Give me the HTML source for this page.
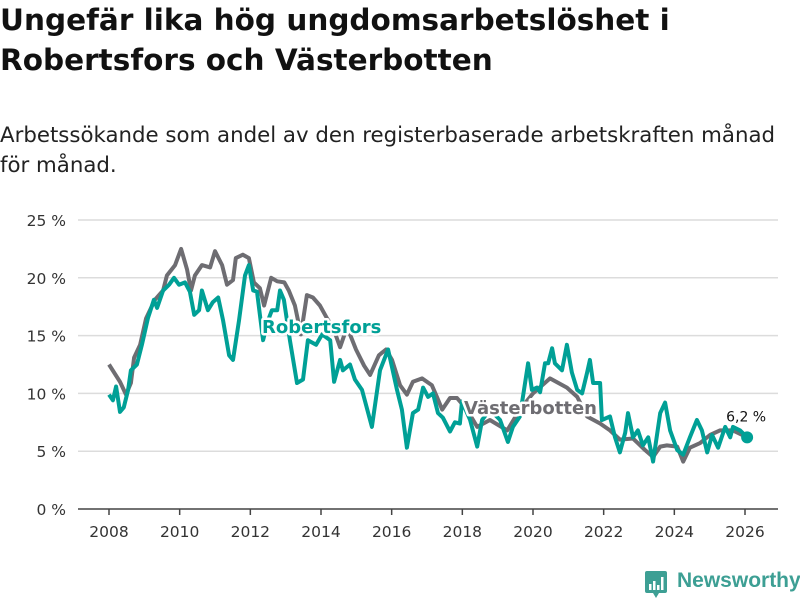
<!DOCTYPE html>
<html><head><meta charset="utf-8">
<style>
body{margin:0;background:#fff;width:800px;height:600px;overflow:hidden;font-family:"DejaVu Sans","Liberation Sans",sans-serif;}
h1{position:absolute;left:0;top:0px;margin:0;font-size:29.5px;line-height:40px;font-weight:bold;color:#111;white-space:nowrap;}
.sub{position:absolute;left:0;top:121px;margin:0;font-size:21.3px;line-height:30px;color:#222;white-space:nowrap;}
svg{position:absolute;left:0;top:0;}
</style></head><body>
<h1>Ungefär lika hög ungdomsarbetslöshet i<br>Robertsfors och Västerbotten</h1>
<p class="sub">Arbetssökande som andel av den registerbaserade arbetskraften månad<br>för månad.</p>
<svg id="chart" width="800" height="600"></svg>
<div style="position:absolute;left:645px;top:570px;height:26px;">
<svg width="22" height="28" style="position:absolute;left:0;top:1px;"><path d="M0 2 Q0 0 2 0 H20 Q22 0 22 2 V20 Q22 22 20 22 H14 L11 27 L8 22 H2 Q0 22 0 20Z" fill="#3d9f94"/><rect x="4" y="13" width="2.5" height="6" fill="#fff"/><rect x="8" y="10" width="2.5" height="9" fill="#fff"/><rect x="12" y="14" width="2.5" height="5" fill="#fff"/><rect x="16" y="6" width="2.5" height="13" fill="#fff"/></svg>
<span style="position:absolute;left:32px;top:-1px;font-size:21px;font-weight:bold;color:#3d9f94;font-family:'Liberation Sans',sans-serif;white-space:nowrap;">Newsworthy</span>
</div>
<script>
const yTicks=[0,5,10,15,20,25];
const yTickLabels=["0 %","5 %","10 %","15 %","20 %","25 %"];
const xTicks=[2008,2010,2012,2014,2016,2018,2020,2022,2024,2026];
const vbYears=[2008.00,2008.31,2008.48,2008.62,2008.71,2008.88,2009.05,2009.30,2009.53,2009.64,2009.87,2010.04,2010.21,2010.32,2010.43,2010.63,2010.86,2011.00,2011.20,2011.34,2011.51,2011.59,2011.79,2011.96,2012.10,2012.27,2012.39,2012.59,2012.76,2012.96,2013.09,2013.26,2013.43,2013.60,2013.77,2013.97,2014.17,2014.34,2014.54,2014.71,2014.82,2014.99,2015.22,2015.39,2015.64,2015.84,2016.01,2016.24,2016.43,2016.60,2016.86,2017.14,2017.28,2017.43,2017.65,2017.85,2018.13,2018.42,2018.78,2019.27,2019.63,2020.00,2020.48,2020.96,2021.25,2021.53,2021.90,2022.18,2022.46,2022.83,2023.17,2023.40,2023.60,2023.79,2024.08,2024.25,2024.44,2024.73,2025.01,2025.29,2025.66,2026.06];
const vbValues=[12.5,11.0,9.9,10.9,13.1,14.2,16.5,18.1,18.9,20.2,21.1,22.5,20.7,18.9,20.2,21.1,20.9,22.3,21.1,19.4,19.8,21.7,22.0,21.7,19.6,19.1,17.6,20.0,19.7,19.6,18.9,17.6,15.1,18.5,18.3,17.6,16.5,15.7,14.0,15.5,15.1,13.8,12.4,11.6,13.3,13.8,12.9,10.7,9.9,11.0,11.3,10.7,9.7,8.6,9.6,9.6,8.6,7.1,7.7,6.8,8.6,10.0,11.3,10.5,9.7,8.0,7.4,6.8,6.0,6.1,5.1,4.5,5.4,5.5,5.4,4.1,5.3,5.7,6.4,6.8,6.8,6.2];
const rbYears=[2008.00,2008.11,2008.20,2008.31,2008.42,2008.54,2008.62,2008.79,2008.93,2009.10,2009.27,2009.36,2009.53,2009.70,2009.84,2009.98,2010.15,2010.29,2010.41,2010.55,2010.63,2010.80,2010.94,2011.09,2011.23,2011.40,2011.51,2011.68,2011.85,2011.96,2012.08,2012.19,2012.36,2012.50,2012.61,2012.76,2012.84,2012.95,2013.12,2013.32,2013.49,2013.63,2013.86,2014.03,2014.26,2014.37,2014.54,2014.62,2014.82,2014.96,2015.16,2015.44,2015.67,2015.90,2016.15,2016.29,2016.43,2016.60,2016.75,2016.89,2017.03,2017.17,2017.31,2017.45,2017.65,2017.79,2017.93,2017.99,2018.22,2018.42,2018.56,2018.78,2019.07,2019.29,2019.43,2019.63,2019.86,2019.97,2020.11,2020.20,2020.34,2020.43,2020.54,2020.62,2020.82,2020.96,2021.10,2021.25,2021.39,2021.53,2021.61,2021.70,2021.90,2021.95,2022.18,2022.32,2022.46,2022.61,2022.69,2022.83,2022.97,2023.11,2023.26,2023.40,2023.60,2023.74,2023.88,2024.08,2024.25,2024.44,2024.64,2024.78,2024.93,2025.07,2025.24,2025.44,2025.58,2025.66,2025.86,2026.06];
const rbValues=[9.9,9.4,10.6,8.4,8.8,10.3,12.0,12.5,14.2,16.5,18.1,17.4,18.9,19.4,20.0,19.4,19.6,18.8,16.8,17.2,18.9,17.2,17.9,18.3,16.3,13.3,12.9,16.3,20.2,21.1,18.9,18.8,14.6,16.3,17.2,17.2,18.9,18.1,14.6,10.9,11.2,14.6,14.2,15.1,14.6,11.0,12.9,12.0,12.5,11.2,10.3,7.1,12.0,13.8,10.3,8.6,5.3,8.3,8.6,10.5,9.7,10.0,8.3,7.9,6.7,7.5,7.4,9.3,7.7,5.4,7.7,8.6,7.7,5.8,7.1,8.0,12.6,10.3,10.5,10.1,12.6,12.6,13.9,12.6,12.0,14.2,11.8,10.3,10.0,11.8,12.9,10.9,10.9,7.7,8.0,6.2,4.9,6.6,8.3,6.2,6.8,5.5,6.2,4.1,8.3,9.2,6.8,5.1,4.7,6.2,7.7,6.8,4.9,6.4,5.3,7.1,6.2,7.1,6.8,6.2];

const NS='http://www.w3.org/2000/svg';
const svg=document.getElementById('chart');
const X0=78,X1=778,Y0=509,Y25=220;
const xs=v=>109+(v-2008)*(745-109)/18;
const ys=v=>Y0-v*(Y0-Y25)/25;
function mk(tag,attrs,parent){const e=document.createElementNS(NS,tag);for(const k in attrs)e.setAttribute(k,attrs[k]);(parent||svg).appendChild(e);return e;}

yTicks.forEach((t,i)=>{
  if(t>0){const g=mk('line',{x1:X0,x2:X1,y1:ys(t),y2:ys(t),stroke:'#dcdcdc','stroke-width':1.5});
  
  }
  const l=mk('text',{x:66,y:ys(t)+6,'text-anchor':'end','font-size':15.5,fill:'#333','font-family':'DejaVu Sans, sans-serif'});
  l.textContent=yTickLabels[i];
  
  
});
const ax=mk('line',{x1:X0,x2:X1,y1:Y0,y2:Y0,stroke:'#444','stroke-width':1.5});


xTicks.forEach(t=>{
  const tk=mk('line',{x1:xs(t),x2:xs(t),y1:Y0,y2:Y0+6,stroke:'#444','stroke-width':1.5});
  
  
  const l=mk('text',{x:xs(t),y:537,'text-anchor':'middle','font-size':15.5,fill:'#333','font-family':'DejaVu Sans, sans-serif'});
  l.textContent=t;
  
  
});
function path(yrs,vals){return yrs.map((y,i)=>(i?'L':'M')+xs(y).toFixed(1)+' '+ys(vals[i]).toFixed(1)).join(' ');}
const vb=mk('path',{d:path(vbYears,vbValues),fill:'none',stroke:'#6e6d72','stroke-width':4,'stroke-linejoin':'round'});


const rb=mk('path',{d:path(rbYears,rbValues),fill:'none',stroke:'#00a096','stroke-width':4,'stroke-linejoin':'round'});


const n=rbYears.length-1;
const dot=mk('circle',{cx:xs(rbYears[n]),cy:ys(rbValues[n]),r:6,fill:'#00a096'});


const lv=mk('text',{x:xs(rbYears[n])-1,y:ys(rbValues[n])-16,'text-anchor':'middle','font-size':14,fill:'#111','font-family':'DejaVu Sans, sans-serif',stroke:'#fff','stroke-width':3,'paint-order':'stroke'});
lv.textContent=rbValues[n].toFixed(1).replace('.',',')+' %';


function lab(txt,x,y,col,name){
  const t=mk('text',{x:x,y:y,'font-size':18,'font-weight':'bold',fill:col,'font-family':'DejaVu Sans, sans-serif',stroke:'#fff','stroke-width':5,'paint-order':'stroke','stroke-linejoin':'round'});
  t.textContent=txt;
  
  
}
lab('Robertsfors',262,333,'#00a096','robertsfors-label');
lab('Västerbotten',464,414,'#6e6d72','vasterbotten-label');
</script>
</body></html>
